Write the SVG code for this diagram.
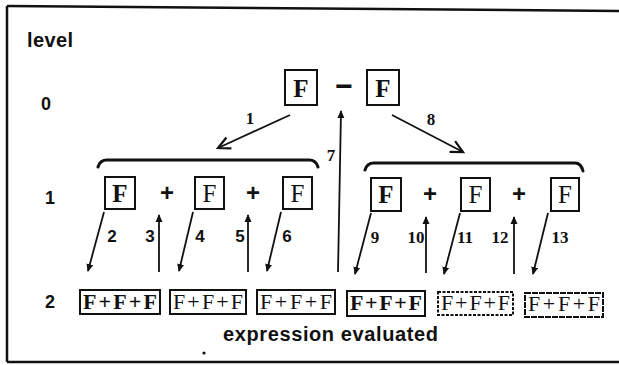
<svg xmlns="http://www.w3.org/2000/svg" width="619" height="365" viewBox="0 0 619 365">
<defs>
<marker id="solid" markerUnits="userSpaceOnUse" markerWidth="10" markerHeight="10" refX="7" refY="4" orient="auto">
<path d="M0,0.5 L8,4 L0,7.5 z" fill="#111"/>
</marker>
<marker id="open" markerUnits="userSpaceOnUse" markerWidth="16" markerHeight="16" refX="13" refY="7" orient="auto">
<path d="M1,1 L13,7 L1,13" fill="none" stroke="#111" stroke-width="2.2"/>
</marker>
</defs>
<style>
.frame{fill:none;stroke:#111;stroke-width:2.5}
.lvl{font-family:"Liberation Sans",Arial,sans-serif;font-weight:bold;fill:#111}
.num{font-family:"Liberation Serif","Times New Roman",serif;font-weight:bold;font-size:17px;fill:#111;text-anchor:middle}
.nums{font-family:"Liberation Sans",Arial,sans-serif;font-weight:bold;font-size:17px;fill:#111;text-anchor:middle}
.box{fill:#fff;stroke:#111;stroke-width:2}
.fb{font-family:"Liberation Serif","Times New Roman",serif;font-weight:bold;font-size:25px;fill:#111;text-anchor:middle}
.fn{font-family:"Liberation Serif","Times New Roman",serif;font-weight:normal;font-size:25px;fill:#111;text-anchor:middle}
.op{font-family:"Liberation Sans",Arial,sans-serif;font-weight:bold;font-size:24px;fill:#111;text-anchor:middle}
.eb{font-family:"Liberation Serif","Times New Roman",serif;font-weight:bold;font-size:22px;fill:#111}
.en{font-family:"Liberation Serif","Times New Roman",serif;font-weight:normal;font-size:22px;fill:#111}
.arr{stroke:#111;stroke-width:1.8;fill:none}
.brace{stroke:#111;stroke-width:3;fill:none;stroke-linecap:round}
</style>

<g id="frame">
<path class="frame" d="M7,6 L619,11"/>
<path class="frame" d="M7,6 L7,362"/>
<path class="frame" d="M7,362 L619,362"/>
</g>

<g id="level-labels">
<text class="lvl" x="27" y="47" font-size="20" textLength="46">level</text>
<text class="lvl" x="46" y="110" font-size="18" text-anchor="middle">0</text>
<text class="lvl" x="50" y="204" font-size="18" text-anchor="middle">1</text>
<text class="lvl" x="50" y="308" font-size="18" text-anchor="middle">2</text>
</g>

<g id="level0">
<g id="n0a"><rect class="box" x="285" y="70" width="32" height="35"/><text class="fb" x="301" y="97" font-size="27">F</text></g>
<g id="n0op"><text class="lvl" x="344" y="96" font-size="30" text-anchor="middle">−</text></g>
<g id="n0b"><rect class="box" x="367" y="70" width="32" height="35"/><text class="fb" x="383" y="97" font-size="27">F</text></g>
</g>

<g id="braces">
<path class="brace" d="M98,167 Q100,160 107,160 L309,160 Q316,160 318,167"/>
<path class="brace" d="M365,170 Q367,163 374,163 L575,163 Q581,163 583,171"/>
</g>

<g id="level1">
<g id="n1a"><rect class="box" x="105" y="177" width="30" height="32"/><text class="fb" x="120" y="202">F</text></g>
<g id="n1p1"><text class="op" x="167" y="201">+</text></g>
<g id="n1b"><rect class="box" x="195" y="177" width="29" height="32"/><text class="fn" x="209.5" y="202">F</text></g>
<g id="n1p2"><text class="op" x="253" y="201">+</text></g>
<g id="n1c"><rect class="box" x="283" y="177" width="29" height="32"/><text class="fn" x="297.5" y="202">F</text></g>
<g id="n1d"><rect class="box" x="371" y="178" width="30" height="33"/><text class="fb" x="386" y="203">F</text></g>
<g id="n1p3"><text class="op" x="430" y="202">+</text></g>
<g id="n1e"><rect class="box" x="461" y="178" width="29" height="33" stroke-width="1.6"/><text class="fn" x="475.5" y="203">F</text></g>
<g id="n1p4"><text class="op" x="519" y="202">+</text></g>
<g id="n1f"><rect class="box" x="551" y="178" width="28" height="33" stroke-width="1.6"/><text class="fn" x="565" y="203">F</text></g>
</g>

<g id="level2">
<g id="n2a"><rect class="box" x="80" y="290" width="80" height="24" stroke-width="2.6"/><text class="eb" x="83" y="309" textLength="74">F+F+F</text></g>
<g id="n2b"><rect class="box" x="170" y="290" width="76" height="24" stroke-width="1.6"/><text class="en" x="173" y="309" textLength="70">F+F+F</text></g>
<g id="n2c"><rect class="box" x="257" y="290" width="78" height="24" stroke-width="1.6"/><text class="en" x="260" y="309" textLength="72">F+F+F</text></g>
<g id="n2d"><rect class="box" x="347" y="291" width="78" height="25" stroke-width="2.6"/><text class="eb" x="350" y="310" textLength="72">F+F+F</text></g>
<g id="n2e"><rect class="box" x="438" y="292" width="75" height="23" stroke-width="1.1" stroke-dasharray="3,1.5" stroke="#555"/><text class="en" x="441" y="310" textLength="69" fill="#333">F+F+F</text></g>
<g id="n2f"><rect class="box" x="525" y="293" width="78" height="24" stroke-width="1.4" stroke-dasharray="6,1"/><text class="en" x="528" y="311" textLength="72" fill="#222">F+F+F</text></g>
</g>

<g id="caption">
<text class="lvl" x="223" y="341" font-size="20" textLength="215">expression evaluated</text>
<circle cx="204" cy="353" r="1.6" fill="#111"/>
</g>

<g id="connectors">
<line class="arr" x1="290" y1="115" x2="218" y2="148" marker-end="url(#open)"/>
<line class="arr" x1="392" y1="115" x2="463" y2="152" marker-end="url(#open)"/>
<line class="arr" x1="338" y1="272" x2="341" y2="111" marker-end="url(#solid)"/>
<line class="arr" x1="104" y1="212" x2="88" y2="271" marker-end="url(#solid)"/>
<line class="arr" x1="159" y1="272" x2="159" y2="215" marker-end="url(#solid)"/>
<line class="arr" x1="193" y1="212" x2="179" y2="271" marker-end="url(#solid)"/>
<line class="arr" x1="248" y1="272" x2="248" y2="215" marker-end="url(#solid)"/>
<line class="arr" x1="281" y1="212" x2="267" y2="271" marker-end="url(#solid)"/>
<line class="arr" x1="371" y1="213" x2="355" y2="274" marker-end="url(#solid)"/>
<line class="arr" x1="426" y1="273" x2="426" y2="217" marker-end="url(#solid)"/>
<line class="arr" x1="460" y1="213" x2="444" y2="274" marker-end="url(#solid)"/>
<line class="arr" x1="514" y1="274" x2="514" y2="217" marker-end="url(#solid)"/>
<line class="arr" x1="548" y1="213" x2="533" y2="274" marker-end="url(#solid)"/>
</g>

<g id="connector-labels">
<text class="num" x="250" y="124">1</text>
<text class="num" x="431" y="125">8</text>
<text class="num" x="331" y="161">7</text>
<text class="nums" x="112" y="242">2</text>
<text class="nums" x="150" y="242">3</text>
<text class="nums" x="200" y="242">4</text>
<text class="nums" x="240" y="242">5</text>
<text class="nums" x="287" y="242">6</text>
<text class="num" x="375" y="243">9</text>
<text class="num" x="416" y="243">10</text>
<text class="num" x="465" y="243">11</text>
<text class="num" x="500" y="243">12</text>
<text class="num" x="560" y="243">13</text>
</g>
</svg>
